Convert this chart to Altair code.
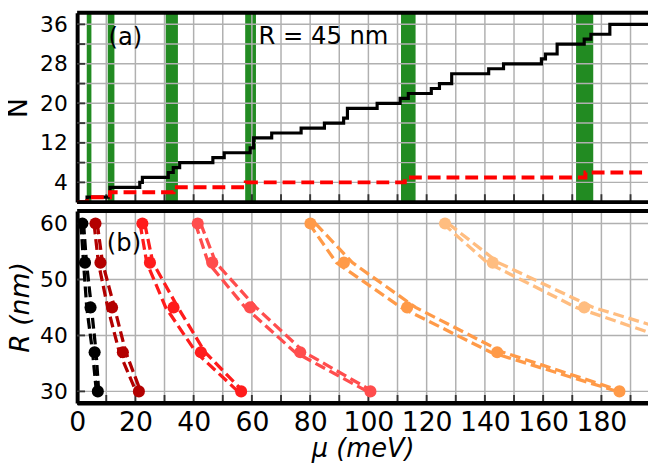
import altair as alt
import pandas as pd

FONT = "DejaVu Sans"

# ---------------- axis limits ----------------
MU_MAX = 196.0
N_MAX = 38.34
R_LO, R_HI = 27.94, 62.22

mu_grid = [10, 20, 30, 40, 50, 60, 70, 80, 90, 100, 110, 120, 130, 140, 150, 160, 170, 180, 190]
mu_labels = [0, 20, 40, 60, 80, 100, 120, 140, 160, 180]
n_grid = [4, 8, 12, 16, 20, 24, 28, 32, 36]
n_labels = [4, 12, 20, 28, 36]
r_ticks = [30, 40, 50, 60]

# ---------------- panel (a) ----------------
band_lo = [3.3, 10.5, 30.4, 57.7, 111.2, 171.3]
band_hi = [4.9, 12.8, 34.6, 61.4, 116.2, 177.2]

stair_mu = [0, 3.4, 11.3, 21.5, 22.4, 31.3, 33.0, 35.2, 46.6, 50.5,
            59.4, 60.6, 66.8, 76.9, 84.9, 91.5, 92.8, 103.0, 110.9, 113.7,
            121.6, 124.4, 128.6, 141.3, 146.4, 159.4, 160.8, 164.8, 174.1, 176.4,
            182.9, 196.0]
stair_N = [0, 1, 3, 4, 5, 6, 7, 8, 9, 10,
           11, 13, 14, 15, 16, 17, 19, 20, 21, 22,
           23, 24, 26, 27, 28, 29, 30, 32, 33, 34,
           36, 36]

red_mu = [0, 3.4, 11.3, 33.1, 57.9, 112.5, 174.5, 196.0]
red_N = [0, 1, 2, 3, 4, 5, 6, 6]

# ---------------- panel (b) ----------------
R_vals = [60, 53, 45, 37, 30]
groups = ["g1", "g2", "g3", "g4", "g5", "g6"]
colors = ["#000000", "#b30000", "#ff1c1c", "#ff4d4d", "#ff9a48", "#ffbd80"]

dot_mu = {
    "g1": [1.8, 2.7, 4.6, 6.0, 7.1],
    "g2": [6.3, 8.0, 12.0, 15.7, 21.2],
    "g3": [22.4, 25.0, 33.1, 42.5, 56.3],
    "g4": [41.4, 46.4, 59.4, 76.6, 100.7],
    "g5": [80.1, 91.6, 113.3, 144.2, 186.2],
    "g6": [126.3, 142.7, 174.1],
}
lineA_mu = {
    "g1": [1.3, 2.2, 3.3, 5.3, 6.6],
    "g2": [5.8, 7.3, 10.5, 14.5, 20.2],
    "g3": [21.6, 23.9, 30.4, 40.8, 55.2],
    "g4": [40.6, 45.0, 57.7, 74.8, 99.6],
    "g5": [79.6, 89.0, 111.2, 142.0, 185.4],
    "g6": [125.6, 140.8, 171.3, 216.0],
}
lineB_mu = {
    "g1": [2.2, 3.2, 4.9, 6.5, 7.4],
    "g2": [6.9, 8.7, 12.8, 16.7, 21.8],
    "g3": [23.2, 26.0, 34.6, 43.9, 57.0],
    "g4": [42.4, 47.6, 61.4, 78.0, 101.5],
    "g5": [81.8, 94.5, 116.2, 146.2, 187.2],
    "g6": [127.4, 144.6, 177.2, 227.5],
}

# ---------------- layout constants ----------------
W, H = 578, 395
A_BOTTOM_PX = 191.7
B_TOP_PX = 200.7
GRID = "#b0b0b0"

# ---------------- tables ----------------
bands = pd.DataFrame({"x0": band_lo, "x1": band_hi, "y0": 0.0, "y1": N_MAX})
stairs = pd.DataFrame({"mu": stair_mu, "N": stair_N})
reds = pd.DataFrame({"mu": red_mu, "N": red_N})

dots_rows, line_rows = [], []
for g in groups:
    for r, m in zip(R_vals, dot_mu[g]):
        dots_rows.append({"group": g, "R": r, "mu": m})
    for name, src in (("A", lineA_mu), ("B", lineB_mu)):
        for r, m in zip(R_vals, src[g]):
            line_rows.append({"group": g, "key": g + name, "R": r, "mu": m})
dots = pd.DataFrame(dots_rows)
lines = pd.DataFrame(line_rows)

# ---------------- scales / axes ----------------
xs = alt.Scale(domain=[0, MU_MAX], nice=False, zero=False)
x_axis = alt.Axis(values=mu_labels, title="μ (meV)", grid=False, ticks=False, tickSize=0,
                  labelFontSize=27, labelPadding=7, labelColor="black", labelFont=FONT,
                  titleFontSize=26, titleFontStyle="italic", titleFontWeight="normal",
                  titleColor="black", titleFont=FONT, titlePadding=0,
                  domainWidth=4, domainColor="black", labelFlush=False)

ys_a = alt.Scale(domain=[0, N_MAX], range=[A_BOTTOM_PX, 0], nice=False, zero=False)
ya_axis = alt.Axis(values=n_labels, title="N", grid=False, ticks=False, tickSize=0, orient="left",
                   labelFontSize=22, labelPadding=10, labelColor="black", labelFont=FONT,
                   titleFontSize=27, titleFontWeight="normal", titleColor="black", titleFont=FONT,
                   titlePadding=7, domainWidth=4, domainColor="black")

ys_b = alt.Scale(domain=[R_LO, R_HI], range=[H, B_TOP_PX], nice=False, zero=False)
yb_axis = alt.Axis(values=r_ticks, title="R (nm)", grid=False, ticks=False, tickSize=0, orient="left",
                   labelFontSize=22, labelPadding=10, labelColor="black", labelFont=FONT,
                   titleFontSize=27, titleFontWeight="normal", titleFontStyle="italic",
                   titleColor="black", titleFont=FONT,
                   titlePadding=5, domainWidth=4, domainColor="black")


def X(f):
    return alt.X(f, type="quantitative", scale=xs, axis=x_axis)


def YA(f):
    return alt.Y(f, type="quantitative", scale=ys_a, axis=ya_axis)


def YB(f):
    return alt.Y(f, type="quantitative", scale=ys_b, axis=yb_axis)


# ---------------- panel (a) layers ----------------
a_vgrid = pd.DataFrame({"x": mu_grid, "y0": 0.0, "y1": N_MAX})
a_hgrid = pd.DataFrame({"x0": 0.0, "x1": MU_MAX, "y": n_grid})
a_frame = pd.DataFrame({"x0": [0.0, 0.0], "x1": [MU_MAX, MU_MAX], "y": [0.0, N_MAX]})
a_xticks = pd.DataFrame({"x": mu_grid, "y": 0.0})
a_yticks = pd.DataFrame({"x": 0.0, "y": n_grid})
a_text = pd.DataFrame({"x": [10.8, 62.3], "y": [33.3, 33.5], "t": ["(a)", "R = 45 nm"]})

a_layers = alt.layer(
    alt.Chart(bands).mark_rect(color="#228b22").encode(x=X("x0"), x2="x1", y=YA("y0"), y2="y1"),
    alt.Chart(a_vgrid).mark_rule(color=GRID, strokeWidth=1.5).encode(x=X("x"), y=YA("y0"), y2="y1"),
    alt.Chart(a_hgrid).mark_rule(color=GRID, strokeWidth=1.5).encode(x=X("x0"), x2="x1", y=YA("y")),
    alt.Chart(a_xticks).mark_tick(orient="vertical", size=8, thickness=2, color="black", yOffset=-4)
    .encode(x=X("x"), y=YA("y")),
    alt.Chart(a_yticks).mark_tick(orient="horizontal", size=8, thickness=2, color="black", xOffset=4)
    .encode(x=X("x"), y=YA("y")),
    alt.Chart(stairs).mark_line(interpolate="step-after", color="black", strokeWidth=3.2, clip=True)
    .encode(x=X("mu"), y=YA("N")),
    alt.Chart(reds).mark_line(interpolate="step-after", color="#ff0000", strokeWidth=4,
                              strokeDash=[13, 6], clip=True)
    .encode(x=X("mu"), y=YA("N")),
    alt.Chart(a_frame).mark_rule(color="black", strokeWidth=4).encode(x=X("x0"), x2="x1", y=YA("y")),
    alt.Chart(a_text).mark_text(align="left", baseline="middle", fontSize=24.5, font=FONT, color="black")
    .encode(x=X("x"), y=YA("y"), text="t:N"),
)

# ---------------- panel (b) layers ----------------
b_vgrid = pd.DataFrame({"x": mu_grid, "y0": R_LO, "y1": R_HI})
b_hgrid = pd.DataFrame({"x0": 0.0, "x1": MU_MAX, "y": r_ticks})
b_frame = pd.DataFrame({"x0": [0.0, 0.0], "x1": [MU_MAX, MU_MAX], "y": [R_LO, R_HI]})
b_xticks = pd.DataFrame({"x": mu_grid, "y": R_LO})
b_yticks = pd.DataFrame({"x": 0.0, "y": r_ticks})
b_text = pd.DataFrame({"x": [10.2], "y": [56.3], "t": ["(b)"]})

color_enc = alt.Color("group:N", scale=alt.Scale(domain=groups, range=colors), legend=None)

b_layers = alt.layer(
    alt.Chart(b_vgrid).mark_rule(color=GRID, strokeWidth=1.5).encode(x=X("x"), y=YB("y0"), y2="y1"),
    alt.Chart(b_hgrid).mark_rule(color=GRID, strokeWidth=1.5).encode(x=X("x0"), x2="x1", y=YB("y")),
    alt.Chart(b_xticks).mark_tick(orient="vertical", size=8, thickness=2, color="black", yOffset=-4)
    .encode(x=X("x"), y=YB("y")),
    alt.Chart(b_yticks).mark_tick(orient="horizontal", size=8, thickness=2, color="black", xOffset=4)
    .encode(x=X("x"), y=YB("y")),
    alt.Chart(lines).mark_line(strokeWidth=3.3, strokeDash=[11, 5], clip=True)
    .encode(x=X("mu"), y=YB("R"), color=color_enc, detail="key:N",
            order=alt.Order("R:Q", sort="descending")),
    alt.Chart(dots).mark_circle(size=150, opacity=1, clip=True)
    .encode(x=X("mu"), y=YB("R"), color=color_enc),
    alt.Chart(b_frame).mark_rule(color="black", strokeWidth=4).encode(x=X("x0"), x2="x1", y=YB("y")),
    alt.Chart(b_text).mark_text(align="left", baseline="middle", fontSize=24.5, font=FONT, color="black")
    .encode(x=X("x"), y=YB("y"), text="t:N"),
)

chart = (
    alt.layer(a_layers, b_layers)
    .resolve_scale(y="independent", color="independent")
    .properties(width=W, height=H, autosize=alt.AutoSizeParams(type="none"),
                padding={"left": 70, "top": 2, "right": 0, "bottom": 59})
    .configure_view(stroke=None)
)

chart.save("out.html", embed_options={"renderer": "svg", "actions": False})
